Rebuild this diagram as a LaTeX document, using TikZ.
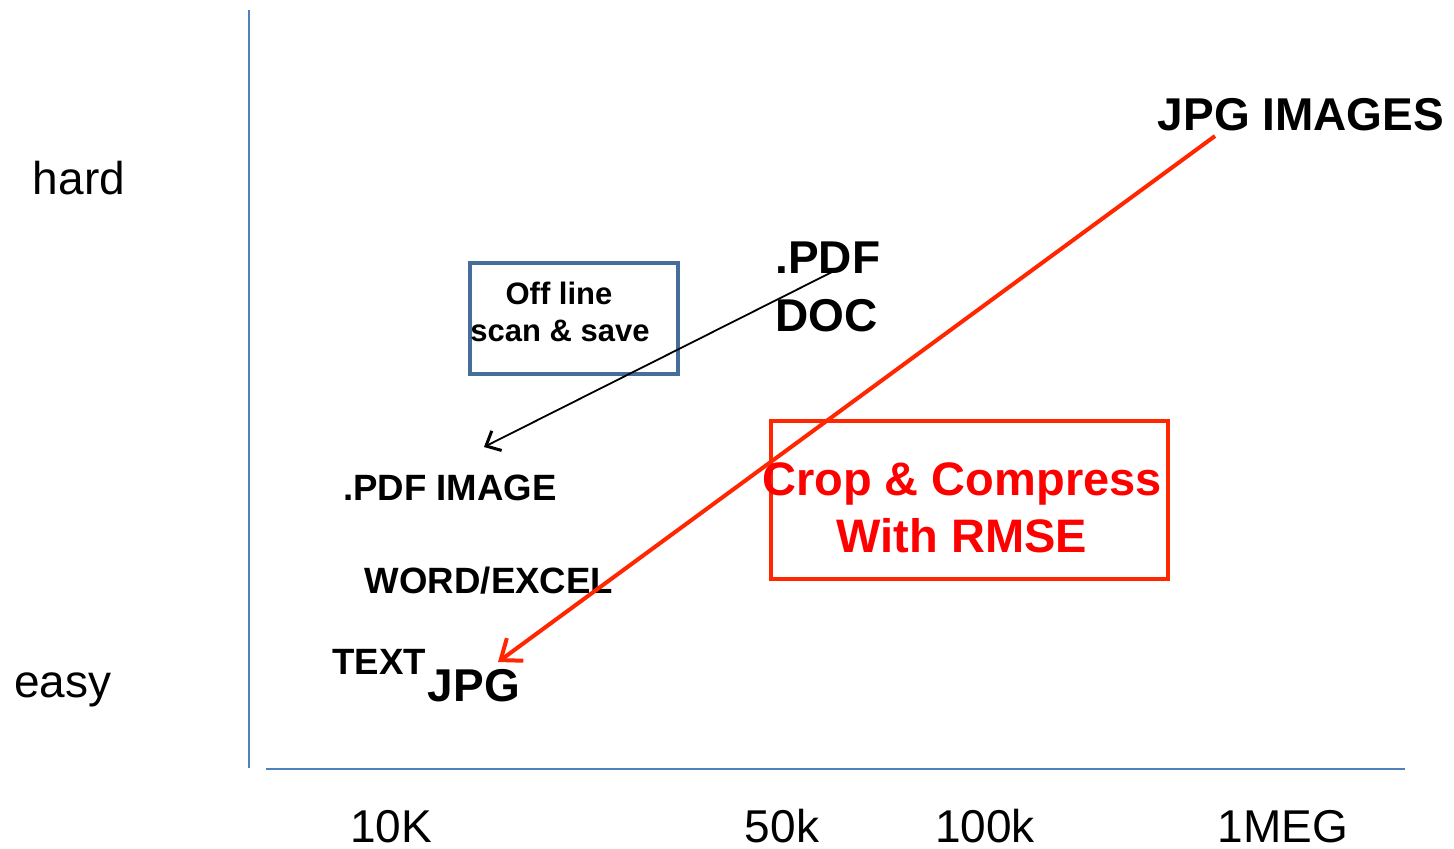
\documentclass[tikz,border=0pt]{standalone}
\usepackage{fontspec}
\setmainfont{Liberation Sans}
\usetikzlibrary{arrows.meta}
\definecolor{axisblue}{RGB}{79,129,189}
\definecolor{boxblue}{RGB}{70,110,155}
\definecolor{redline}{RGB}{255,38,0}
\definecolor{redtext}{RGB}{255,0,0}
\tikzset{
  axis/.style={draw=axisblue, line width=1.2pt},
  lbl/.style={inner sep=0pt, anchor=base, font=\fontsize{23pt}{27pt}\selectfont},
  big/.style={inner sep=0pt, anchor=base, font=\bfseries\fontsize{23pt}{27pt}\selectfont},
  mid/.style={inner sep=0pt, anchor=base, font=\bfseries\fontsize{18.3pt}{22pt}\selectfont},
  small/.style={inner sep=0pt, anchor=base, font=\bfseries\fontsize{15.5pt}{18pt}\selectfont},
  redtxt/.style={inner sep=0pt, anchor=base, text=redtext, font=\bfseries\fontsize{23.5pt}{28pt}\selectfont},
  bluebox/.style={draw=boxblue, line width=2pt},
  redbox/.style={draw=redline, line width=2pt},
  redarrow/.style={draw=redline, line width=2pt, -{Straight Barb[length=9pt, width=14pt, line width=2pt]}},
  blackarrow/.style={draw=black, line width=0.9pt, -{Straight Barb[length=6pt, width=11pt, line width=1.5pt]}}
}
\begin{document}
\begin{tikzpicture}[x=0.5pt, y=-0.5pt]
\useasboundingbox (0,0) rectangle (1454,848);
% axes
\coordinate (ytop) at (249,10);
\coordinate (ybot) at (249,768);
\coordinate (xl) at (266,769);
\coordinate (xr) at (1405,769);
\draw[axis] (ytop) -- (ybot);
\draw[axis] (xl) -- (xr);
% axis labels
\node[lbl] (hard) at (79,194) {hard};
\node[lbl] (easy) at (63,697) {easy};
\node[lbl] (t10k) at (391,842) {10K};
\node[lbl] (t50k) at (782,842) {50k};
\node[lbl] (t100k) at (985,842) {100k};
\node[lbl] (t1meg) at (1283,842) {1MEG};
% boxes
\draw[bluebox] (470,263) rectangle (678,374);
\node[small] (off) at (559,304) {Off line};
\node[small] (scan) at (560,341) {scan \& save};
\draw[redbox] (771,421) rectangle (1168,579);
\node[redtxt] (crop) at (962,495) {Crop \& Compress};
\node[redtxt] (rmse) at (962,552) {With RMSE};
% labels
\node[big] (jpgimg) at (1301,130) {JPG IMAGES};
\node[big, anchor=base west] (pdf) at (775,273) {.PDF};
\node[big, anchor=base west] (doc) at (775,331) {DOC};
\node[mid] (pdfimg) at (450,500) {.PDF IMAGE};
\node[mid] (word) at (489,593) {WORD/EXCEL};
\node[mid] (text) at (379,674) {TEXT};
\node[big] (jpg) at (474,701) {JPG};
% arrows
\coordinate (bstart) at (836,270);
\coordinate (bend) at (484,447);
\draw[blackarrow] (bstart) -- (bend);
\coordinate (rstart) at (1215,136);
\coordinate (rend) at (498,662);
\draw[redarrow] (rstart) -- (rend);
\end{tikzpicture}
\end{document}
